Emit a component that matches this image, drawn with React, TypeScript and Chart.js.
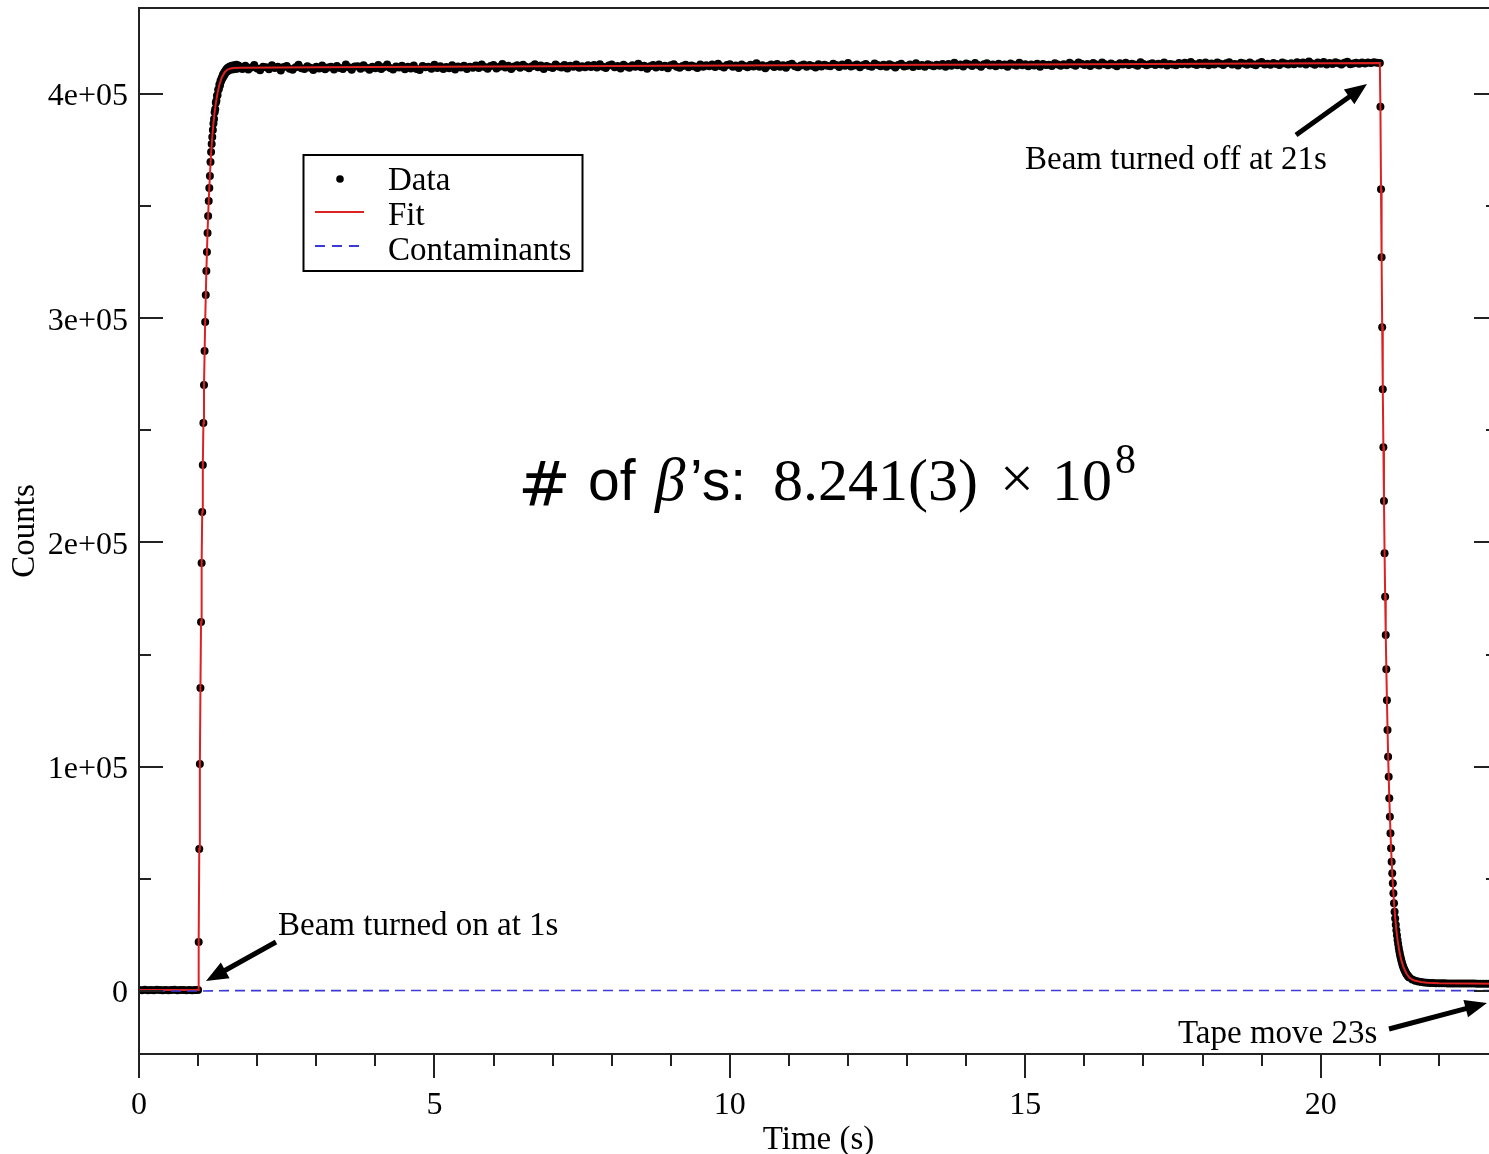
import React, { useEffect, useRef } from 'react';
import { Chart, registerables } from 'chart.js';

Chart.register(...registerables);

// ---------------- data ----------------
// Data points: counts per time bin, grouped in segments of uniform bin width
const preBeamStart = 0.0;
const preBeamStep = 0.05;
const preBeamCounts = [420, 380, 510, 290, 460, 350, 530, 400, 310, 480, 370, 440, 520, 330, 410, 490, 360, 450, 300, 470, 430];

const riseStart = 1.01;
const riseStep = 0.01;
const riseCounts = [
  21850, 63320, 101220, 135110, 164540, 190850, 213590, 234550, 253280, 270220,
  285380, 298310, 310350, 321050, 329530, 338000, 345570, 352260, 358060, 363410,
  369650, 374110, 377680, 380800, 383920, 386900, 388800, 391900, 393200, 396100,
  397000, 399200, 399500, 401900, 402100, 404200, 403800, 405900, 405700, 407200,
  406900, 408600, 407800, 409500, 408700, 410300, 409600, 411000, 410100, 411600,
  410400, 411900, 410800, 412300, 411000, 411800, 412600, 410900, 412200, 411500,
  412800, 411200, 412400, 411700, 413000, 411300, 412100, 412700, 411600,
];

const plateauStart = 1.7;
const plateauStep = 0.05;
const plateauCounts = [
  412300, 411200, 412600, 410900, 411800, 412900, 411400, 410600, 412100, 411900,
  411000, 412800, 411600, 412200, 410500, 412000, 412500, 411300, 410800, 411900,
  413000, 411500, 411100, 412400, 411700, 410700, 412200, 411400, 412700, 411000,
  411800, 412100, 410900, 412500, 411600, 411200, 413100, 411900, 410800, 412300,
  412400, 411300, 412800, 411700, 410800, 412200, 411500, 412900, 411100, 412000,
  413200, 411600, 410900, 412300, 411800, 412600, 411000, 412100, 411400, 412700,
  411200, 410700, 412500, 411900, 412200, 411300, 413000, 411600, 412400, 411100,
  412000, 411500, 412800, 410900, 412300, 411800, 412600, 411200, 412100, 411700,
  412700, 411600, 413100, 412000, 411300, 412500, 412900, 411400, 412200, 413400,
  411800, 412600, 411100, 412300, 412800, 411700, 413000, 412100, 411500, 412400,
  413300, 411900, 412700, 411200, 412500, 412000, 411600, 413100, 412300, 411800,
  412900, 411400, 412600, 412100, 413200, 411700, 412400, 411900, 412800, 412000,
  412900, 411800, 413300, 412200, 411600, 412700, 413100, 411900, 412500, 411400,
  413000, 412300, 411700, 412800, 412100, 413500, 411900, 412600, 411300, 412400,
  412900, 411800, 413200, 412000, 412600, 411500, 412800, 413300, 412200, 411700,
  412500, 413000, 411900, 412700, 412300, 411600, 413100, 412100, 412800, 412400,
  413100, 412000, 413500, 412400, 411800, 412900, 413300, 412100, 412700, 411600,
  413200, 412500, 411900, 413000, 412300, 413700, 412100, 412800, 411500, 412600,
  413100, 412000, 413400, 412200, 412800, 411700, 413000, 413500, 412400, 411900,
  412700, 413200, 412100, 412900, 412500, 411800, 413300, 412300, 413000, 412600,
  412400, 413500, 412900, 412000, 413200, 412600, 413800, 412300, 412700, 413100,
  411900, 412800, 413400, 412500, 412100, 413600, 412900, 412400, 413000, 412200,
  413300, 412700, 411800, 412900, 413500, 412300, 412600, 413200, 412000, 413700,
  412500, 412900, 412100, 413300, 412800, 412400, 413000, 412600, 413400, 412200,
  413400, 412600, 413900, 412800, 413200, 412300, 413600, 413100, 412500, 413800,
  412900, 412200, 413300, 413700, 412700, 413100, 412400, 413500, 412800, 413200,
  412100, 413600, 413000, 412600, 413900, 412800, 413300, 412400, 413100, 412700,
  413500, 412200, 413400, 412900, 413000, 412500, 413700, 413200, 412600, 413300,
  412800, 413900, 413200, 412600, 414100, 413500, 412900, 413400, 412500, 413800,
  413100, 412700, 414000, 413300, 412800, 413600, 413000, 412400, 413700, 413200,
  413900, 412900, 413500, 413100, 412600, 414200, 413400, 412800, 413300, 413700,
  412900, 413500, 413100, 414000, 412700, 413400, 413200, 412800, 413800, 413300,
  413900, 413100, 414300, 413400, 412900, 413800, 413300, 414100, 412800, 413600,
  413200, 414000, 413500, 412900, 413700, 414200, 413100, 413400, 412700, 413900,
  413600, 413000, 414100, 413300, 412800, 413700, 414300, 413200, 413500, 413000,
  413800, 413400, 412900, 414000, 413600, 413100, 413700, 413300, 414200, 413500,
  414100, 413200, 414500, 413600, 413000, 414000, 413500, 414300, 413100, 413800,
  413400, 414200, 413700, 413100, 413900, 414400, 413300, 413600, 413900, 413500,
  414100, 413600, 414000, 413800, 414200, 413900,
];

const fallStart = 21.0;
const fallStep = 0.01;
const fallCounts = [
  413800, 394300, 357480, 327160, 295940, 268300, 242440, 218490, 195170, 175820,
  158740, 143450, 129620, 116380, 104480, 95560, 85920, 77720, 70320, 63630,
  57650, 52480, 48020, 43560, 39110, 35360, 32330, 29560, 27070, 24840,
  22790, 20910, 19260, 17750, 16360, 15120, 14000, 13020, 12080, 11240,
  10520, 9810, 9230, 8650, 8160, 7670, 7270, 6910, 6550, 6240, 5980,
];

const tailStart = 21.55;
const tailStep = 0.05;
const tailCounts = [
  5130, 4590, 4240, 4010, 3830, 3700, 3610, 3540, 3490, 3450,
  3420, 3400, 3380, 3370, 3350, 3340, 3330, 3320, 3310, 3300,
  3300, 3290, 3280, 3280, 3270, 3260, 3260, 3250, 3250, 3240,
];

// Fit curve
const fitTimes = [
  0, 1.0, 1.01, 1.02, 1.03, 1.04, 1.05, 1.06, 1.07, 1.08, 1.09, 1.1,
  1.12, 1.14, 1.16, 1.18, 1.2, 1.22, 1.24, 1.26, 1.28, 1.3,
  1.33, 1.36, 1.4, 1.45, 1.5, 1.55, 1.6, 1.7,
  3, 6, 9, 12, 15, 18,
  21.0, 21.01, 21.02, 21.03, 21.04, 21.05, 21.06, 21.07, 21.08, 21.09, 21.1,
  21.12, 21.14, 21.16, 21.18, 21.2, 21.22, 21.24, 21.26, 21.28, 21.3,
  21.33, 21.36, 21.4, 21.45, 21.5, 21.55, 21.6, 21.7, 21.8, 22.0, 22.5, 23.0,
];
const fitCounts = [
  420, 420, 21900, 63300, 101200, 135000, 164600, 190800, 213700, 234500, 253200, 270100,
  298400, 320900, 338500, 352500, 363800, 373500, 381000, 387000, 391900, 395900,
  400500, 404100, 407300, 409700, 410900, 411400, 411600, 411700,
  411900, 412300, 412600, 412900, 413200, 413500,
  413800, 394300, 357500, 326500, 296500, 268500, 242800, 219000, 196500, 176500, 159000,
  129800, 105500, 86300, 70800, 58000, 47800, 39500, 32700, 27200, 22800,
  17800, 14100, 10600, 7800, 6000, 5100, 4600, 4000, 3700, 3500, 3330, 3250,
];

// Contaminants
const contTimes = [0, 1.0, 1.5, 5, 21.0, 21.5, 23.0];
const contCounts = [0, 0, 150, 200, 220, 180, 150];

// Axes
const xMajorTicks = [0, 5, 10, 15, 20];
const xMinorTicks = [1, 2, 3, 4, 6, 7, 8, 9, 11, 12, 13, 14, 16, 17, 18, 19, 21, 22];
const yMajorTicks = [0, 100000, 200000, 300000, 400000];
const yTickLabels = ['0', '1e+05', '2e+05', '3e+05', '4e+05'];
const yMinorTicks = [50000, 150000, 250000, 350000];
const X_MIN = 0;
const X_MAX = 23;
const Y_MIN = -28094;
const Y_MAX = 438350;

// ---------------- helpers ----------------
const SERIF = '"Liberation Serif", "Times New Roman", serif';

function segment(start: number, step: number, counts: number[]) {
  return counts.map((c, i) => ({ x: Math.round((start + i * step) * 100) / 100, y: c }));
}
function pairs(xs: number[], ys: number[]) {
  return xs.map((x, i) => ({ x, y: ys[i] }));
}

function drawArrow(ctx: CanvasRenderingContext2D, x1: number, y1: number, x2: number, y2: number) {
  const ang = Math.atan2(y2 - y1, x2 - x1);
  const hl = 22;
  const hw = 9;
  const bx = x2 - hl * Math.cos(ang);
  const by = y2 - hl * Math.sin(ang);
  ctx.lineWidth = 5;
  ctx.lineCap = 'butt';
  ctx.beginPath();
  ctx.moveTo(x1, y1);
  ctx.lineTo(bx + 2 * Math.cos(ang), by + 2 * Math.sin(ang));
  ctx.stroke();
  ctx.beginPath();
  ctx.moveTo(x2, y2);
  ctx.lineTo(bx + hw * Math.sin(ang), by - hw * Math.cos(ang));
  ctx.lineTo(bx - hw * Math.sin(ang), by + hw * Math.cos(ang));
  ctx.closePath();
  ctx.fill();
}

const overlayPlugin = {
  id: 'overlay',
  afterDatasetsDraw(chart: any) {
    const ctx: CanvasRenderingContext2D = chart.ctx;
    const { left, right, top, bottom } = chart.chartArea;
    const xs = chart.scales.x;
    const ys = chart.scales.y;
    ctx.save();
    ctx.strokeStyle = '#222';
    ctx.lineWidth = 2;
    ctx.beginPath();
    ctx.moveTo(left, top);
    ctx.lineTo(right, top);
    ctx.lineTo(right, bottom);
    ctx.lineTo(left, bottom);
    ctx.closePath();
    ctx.stroke();
    const seg = (a: number, b: number, c: number, d: number) => {
      ctx.beginPath();
      ctx.moveTo(a, b);
      ctx.lineTo(c, d);
      ctx.stroke();
    };
    xMajorTicks.forEach((v) => {
      const p = Math.round(xs.getPixelForValue(v));
      seg(p, bottom, p, bottom + 24);
    });
    xMinorTicks.forEach((v) => {
      const p = Math.round(xs.getPixelForValue(v));
      seg(p, bottom, p, bottom + 12);
    });
    yMajorTicks.forEach((v) => {
      const p = Math.round(ys.getPixelForValue(v));
      seg(left, p, left + 24, p);
      seg(right, p, right - 24, p);
    });
    yMinorTicks.forEach((v) => {
      const p = Math.round(ys.getPixelForValue(v));
      seg(left, p, left + 12, p);
      seg(right, p, right - 12, p);
    });
    ctx.restore();
  },
  afterDraw(chart: any) {
    const ctx: CanvasRenderingContext2D = chart.ctx;
    const ds = chart.data.datasets;
    ctx.save();
    // legend
    ctx.strokeStyle = '#000';
    ctx.lineWidth = 2;
    ctx.strokeRect(303.5, 155, 279, 116);
    ctx.fillStyle = '#000';
    ctx.beginPath();
    ctx.arc(340, 179, 3.8, 0, Math.PI * 2);
    ctx.fill();
    ctx.strokeStyle = ds[1].borderColor;
    ctx.lineWidth = 2;
    ctx.beginPath();
    ctx.moveTo(315, 212);
    ctx.lineTo(364, 212);
    ctx.stroke();
    ctx.strokeStyle = ds[2].borderColor;
    ctx.lineWidth = 1.8;
    ctx.setLineDash([10, 7]);
    ctx.beginPath();
    ctx.moveTo(315, 246);
    ctx.lineTo(364, 246);
    ctx.stroke();
    ctx.setLineDash([]);
    ctx.font = `33px ${SERIF}`;
    ctx.textBaseline = 'alphabetic';
    ctx.textAlign = 'left';
    ctx.fillStyle = '#000';
    ctx.fillText(ds[0].label, 388, 190);
    ctx.fillText(ds[1].label, 388, 225);
    ctx.fillText(ds[2].label, 388, 260);

    // annotations
    ctx.fillText('Beam turned on at 1s', 278, 935);
    ctx.fillText('Beam turned off at 21s', 1025, 169);
    ctx.fillText('Tape move 23s', 1178, 1043);
    ctx.strokeStyle = '#000';
    ctx.fillStyle = '#000';
    drawArrow(ctx, 276, 942, 206, 981);
    drawArrow(ctx, 1296, 135, 1367, 84);
    drawArrow(ctx, 1389, 1029, 1487, 1003);

    // central text
    const base = 500;
    const pieces: { t: string; f: string; x: number; y: number }[] = [
      { t: '#', f: '63px "DejaVu Sans"', x: 518, y: base + 6 },
      { t: 'of', f: '57px "Liberation Sans"', x: 588, y: base },
      { t: 'β', f: `italic 61px ${SERIF}`, x: 655, y: base },
      { t: '’s:', f: '57px "Liberation Sans"', x: 690, y: base },
      { t: '8.241(3)', f: `60px ${SERIF}`, x: 773, y: base },
      { t: '×', f: `60px ${SERIF}`, x: 1000, y: base - 2 },
      { t: '10', f: `60px ${SERIF}`, x: 1052, y: base },
      { t: '8', f: `42px ${SERIF}`, x: 1115, y: base - 27 },
    ];
    pieces.forEach((p) => {
      ctx.font = p.f;
      ctx.fillText(p.t, p.x, p.y);
    });
    ctx.restore();
  },
};

export default function App() {
  const ref = useRef<HTMLCanvasElement | null>(null);
  useEffect(() => {
    const canvas = ref.current;
    if (!canvas) return;
    Chart.defaults.font.family = SERIF;
    const dataPoints = [
      ...segment(preBeamStart, preBeamStep, preBeamCounts),
      ...segment(riseStart, riseStep, riseCounts),
      ...segment(plateauStart, plateauStep, plateauCounts),
      ...segment(fallStart, fallStep, fallCounts),
      ...segment(tailStart, tailStep, tailCounts),
    ];
    const chart = new Chart(canvas, {
      type: 'scatter',
      data: {
        datasets: [
          {
            label: 'Data',
            data: dataPoints,
            showLine: false,
            pointRadius: 4,
            pointBorderWidth: 0,
            pointBackgroundColor: '#000',
            backgroundColor: '#000',
            borderColor: '#000',
            order: 3,
          },
          {
            label: 'Fit',
            data: pairs(fitTimes, fitCounts),
            showLine: true,
            pointRadius: 0,
            borderColor: '#dd2020',
            borderWidth: 2,
            order: 2,
          },
          {
            label: 'Contaminants',
            data: pairs(contTimes, contCounts),
            showLine: true,
            pointRadius: 0,
            borderColor: '#3a3ad8',
            borderWidth: 1.6,
            borderDash: [10, 6],
            order: 1,
          },
        ],
      },
      options: {
        responsive: false,
        animation: false,
        devicePixelRatio: 1,
        layout: { padding: { left: 0, top: 8, right: 22, bottom: 0 } },
        plugins: { legend: { display: false }, tooltip: { enabled: false } },
        events: [],
        scales: {
          x: {
            type: 'linear',
            min: X_MIN,
            max: X_MAX,
            afterBuildTicks: (s: any) => {
              s.ticks = [...xMajorTicks, ...xMinorTicks].sort((a, b) => a - b).map((v) => ({ value: v }));
            },
            afterFit: (s: any) => {
              s.height = 100;
              s.paddingLeft = 0;
              s.paddingRight = 0;
            },
            ticks: {
              autoSkip: false,
              maxRotation: 0,
              minRotation: 0,
              padding: 32,
              color: '#000',
              font: { family: SERIF, size: 32 },
              callback: (v: any) => (xMajorTicks.includes(Number(v)) ? String(v) : ''),
            },
            grid: { display: false, drawTicks: false },
            border: { display: false },
            title: {
              display: true,
              text: 'Time (s)',
              color: '#000',
              font: { family: SERIF, size: 33, lineHeight: 0.82 },
              padding: { top: 0, bottom: 0 },
            },
          },
          y: {
            type: 'linear',
            min: Y_MIN,
            max: Y_MAX,
            afterBuildTicks: (s: any) => {
              s.ticks = [...yMajorTicks, ...yMinorTicks].sort((a, b) => a - b).map((v) => ({ value: v }));
            },
            afterFit: (s: any) => {
              s.width = 139;
              s.paddingTop = 0;
              s.paddingBottom = 0;
            },
            ticks: {
              autoSkip: false,
              padding: 11,
              labelOffset: 3,
              color: '#000',
              font: { family: SERIF, size: 32 },
              callback: (v: any) => {
                const i = yMajorTicks.indexOf(Number(v));
                return i >= 0 ? yTickLabels[i] : '';
              },
            },
            grid: { display: false, drawTicks: false },
            border: { display: false },
            title: {
              display: true,
              text: 'Counts',
              color: '#000',
              font: { family: SERIF, size: 33, lineHeight: 1 },
              padding: { top: 9, bottom: 0 },
            },
          },
        },
      },
      plugins: [overlayPlugin],
    } as any);
    return () => chart.destroy();
  }, []);
  return (
    <div
      style={{
        position: 'fixed',
        left: 0,
        top: 0,
        width: 1489,
        height: 1154,
        overflow: 'hidden',
        background: '#fff',
      }}
    >
      <canvas ref={ref} width={1520} height={1154} style={{ display: 'block', width: 1520, height: 1154 }} />
    </div>
  );
}
